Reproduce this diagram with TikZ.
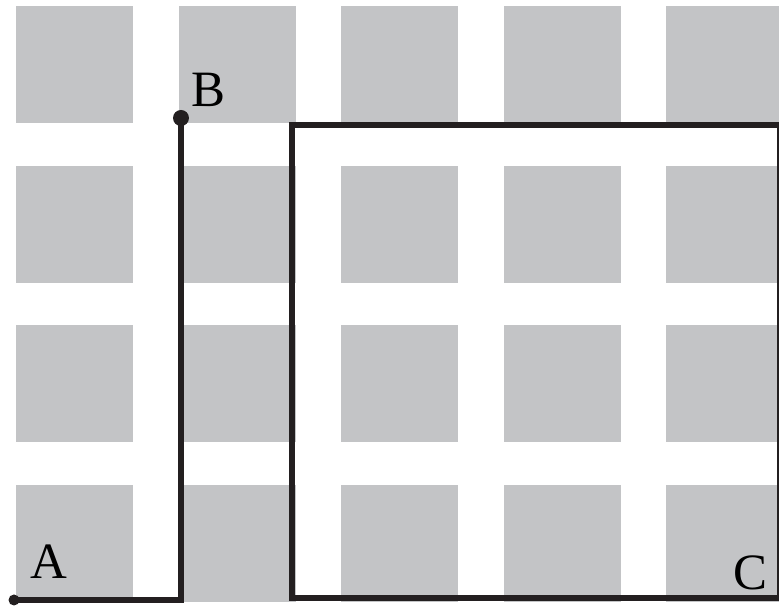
\documentclass[tikz,border=0pt]{standalone}
\usepackage{fontspec}
\setmainfont{Liberation Serif}
\definecolor{blockgray}{RGB}{195,196,198}
\definecolor{inkline}{RGB}{35,31,32}

\begin{document}
\begin{tikzpicture}[
        x=0.02cm, y=-0.02cm,
        block/.style={fill=blockgray, draw=none},
        road/.style={draw=inkline, line width=3.9pt},
        pnode/.style={circle, fill=inkline, inner sep=0pt, minimum size=#1},
        lbl/.style={font=\fontsize{29}{29}\selectfont, inner sep=0pt}]

        \useasboundingbox (0,0) rectangle (779,607);

        % --- blocks of the grid ---
        \foreach \c in {0,...,4}
            \foreach \r in {0,...,3}
                \fill[block] ({16+162.5*\c},{6+159.7*\r}) rectangle ++(117,117);

        % --- route from A to B ---
        \node[pnode=2.2mm] (A) at (14,600) {};
        \node[pnode=3.2mm] (B) at (181,118) {};
        \coordinate (turn) at (181,600);
        \draw[road] (A.center) -- (turn) -- (B.center);

        % --- the region ---
        \coordinate (regtl) at (292,125);
        \coordinate (regbr) at (780.5,598);
        \draw[road] (regtl) rectangle (regbr);

        % labels
        \node[lbl] (labA) at (49,562) {A};
        \node[lbl] (labB) at (208,90) {B};
        \node[lbl] (labC) at (750,573) {C};

    \end{tikzpicture}
\end{document}
